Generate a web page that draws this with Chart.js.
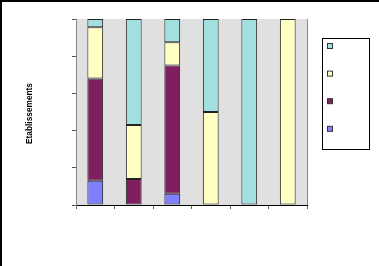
<!doctype html>
<html>
<head>
    <meta charset="UTF-8"/>
    <title>Etablissements</title>
    <style type="text/css">
        body { margin: 0; padding: 0; background: #fff; }
        .chartBox { width: 379px; height: 266px; }
    </style>
</head>
<body>
    <div class="chartBox">
        <canvas id="myChart" width="379" height="266"></canvas>
    </div>

    <script src="https://cdn.jsdelivr.net/npm/chart.js"></script>
    <script>
        // Data arrays (percent of each bar, bottom to top)
        const labels = ['1', '2', '3', '4', '5', '6'];
        const serie1Data = [13, 0, 6, 0, 0, 0];
        const serie2Data = [55, 14, 69, 0, 0, 0];
        const serie3Data = [27.5, 29, 12.5, 50, 0, 100];
        const serie4Data = [4.5, 57, 12.5, 50, 100, 0];
        const yTicks = [0, 20, 40, 60, 80, 100];
        const yTitle = 'Etablissements';

        const colors = ['#8080ff', '#7f1f5f', '#ffffc4', '#a2dfdf'];

        // Outer frame, plot background, y title and the empty legend box
        const decor = {
            id: 'decor',
            beforeDraw(chart) {
                const ctx = chart.ctx;
                const a = chart.chartArea;
                ctx.save();
                ctx.fillStyle = '#fff';
                ctx.fillRect(0, 0, chart.width, chart.height);
                ctx.fillStyle = '#e0e0e0';
                ctx.fillRect(a.left, a.top, a.right - a.left, a.bottom - a.top);
                ctx.strokeStyle = '#888';
                ctx.lineWidth = 1;
                ctx.beginPath();
                ctx.moveTo(Math.round(a.right) + 0.5, a.top);
                ctx.lineTo(Math.round(a.right) + 0.5, a.bottom);
                ctx.stroke();
                ctx.restore();
            },
            afterDraw(chart) {
                const ctx = chart.ctx;
                ctx.save();
                // frame (top and left only, chart is cropped)
                ctx.fillStyle = '#000';
                ctx.fillRect(0, 0, chart.width, 2);
                ctx.fillRect(0, 0, 2, chart.height);

                // y axis title
                ctx.translate(29.5, 113.5);
                ctx.rotate(-Math.PI / 2);
                ctx.font = 'bold 8.3px "Liberation Sans", Arial, sans-serif';
                ctx.textAlign = 'center';
                ctx.textBaseline = 'middle';
                ctx.fillText(yTitle, 0, 0);
                ctx.restore();

                // legend box, series listed top to bottom in reverse order
                ctx.save();
                ctx.fillStyle = '#fff';
                ctx.strokeStyle = '#000';
                ctx.lineWidth = 1;
                ctx.fillRect(322.5, 38.5, 47, 111);
                ctx.strokeRect(322.5, 38.5, 47, 111);
                const ds = chart.data.datasets;
                for (let i = 0; i < ds.length; i++) {
                    const y = 43.5 + i * 27.6;
                    const d = ds[ds.length - 1 - i];
                    ctx.fillStyle = d.backgroundColor;
                    ctx.fillRect(327.5, y, 5, 5);
                    ctx.strokeStyle = '#333';
                    ctx.strokeRect(327.5, y, 5, 5);
                }
                ctx.restore();
            }
        };

        const barStyle = {
            borderColor: '#222',
            borderWidth: c => (c.raw ? 1 : 0),
            borderSkipped: false,
            categoryPercentage: 1,
            barPercentage: 0.41
        };

        const data = {
            labels: labels,
            datasets: [
                Object.assign({ label: 'Série 1', data: serie1Data, backgroundColor: colors[0] }, barStyle),
                Object.assign({ label: 'Série 2', data: serie2Data, backgroundColor: colors[1] }, barStyle),
                Object.assign({ label: 'Série 3', data: serie3Data, backgroundColor: colors[2] }, barStyle),
                Object.assign({ label: 'Série 4', data: serie4Data, backgroundColor: colors[3] }, barStyle)
            ]
        };

        const config = {
            type: 'bar',
            data: data,
            plugins: [decor],
            options: {
                responsive: false,
                animation: false,
                layout: { padding: { top: 19, right: 72, left: 0, bottom: 0 } },
                plugins: {
                    legend: { display: false },
                    tooltip: { enabled: false }
                },
                scales: {
                    x: {
                        stacked: true,
                        offset: true,
                        grid: {
                            offset: true,
                            drawOnChartArea: false,
                            tickLength: 4,
                            color: '#666'
                        },
                        border: { color: '#000', width: 1 },
                        ticks: { display: false },
                        afterFit(scale) { scale.height = 61; }
                    },
                    y: {
                        stacked: true,
                        min: 0,
                        max: 100,
                        afterBuildTicks(scale) {
                            scale.ticks = yTicks.map(v => ({ value: v }));
                        },
                        grid: {
                            drawOnChartArea: false,
                            tickLength: 4,
                            color: '#555'
                        },
                        border: { color: '#888', width: 1 },
                        ticks: { display: false },
                        afterFit(scale) { scale.width = 76; }
                    }
                }
            }
        };

        const myChart = new Chart(document.getElementById('myChart'), config);
    </script>
</body>
</html>
